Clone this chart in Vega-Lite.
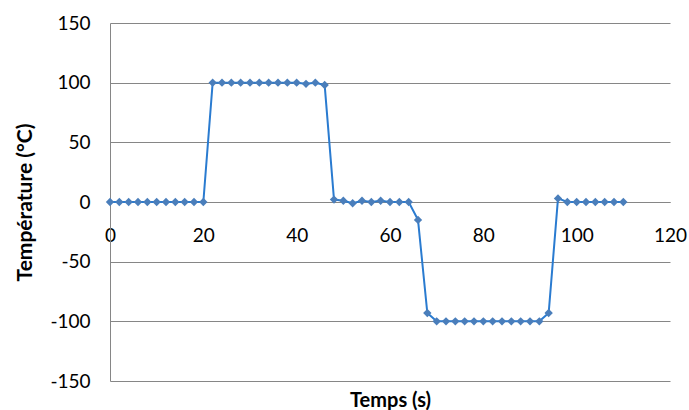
{
  "$schema": "https://vega.github.io/schema/vega-lite/v6.json",
  "autosize": "none",
  "width": 560,
  "height": 358,
  "padding": {"left": 110, "top": 23, "right": 19, "bottom": 29},
  "background": "white",
  "config": {
    "view": {"stroke": null},
    "font": "Lato",
    "axis": {"labelFont": "Lato", "titleFont": "Lato", "labelColor": "#000000", "titleColor": "#000000"}
  },
  "data": {"values": [
    {"t": 0, "T": 0}, {"t": 2, "T": 0}, {"t": 4, "T": 0}, {"t": 6, "T": 0}, {"t": 8, "T": 0},
    {"t": 10, "T": 0}, {"t": 12, "T": 0}, {"t": 14, "T": 0}, {"t": 16, "T": 0}, {"t": 18, "T": 0},
    {"t": 20, "T": 0}, {"t": 22, "T": 100}, {"t": 24, "T": 100}, {"t": 26, "T": 100}, {"t": 28, "T": 100},
    {"t": 30, "T": 100}, {"t": 32, "T": 100}, {"t": 34, "T": 100}, {"t": 36, "T": 100}, {"t": 38, "T": 100},
    {"t": 40, "T": 100}, {"t": 42, "T": 99}, {"t": 44, "T": 100}, {"t": 46, "T": 98}, {"t": 48, "T": 2},
    {"t": 50, "T": 1}, {"t": 52, "T": -1}, {"t": 54, "T": 1}, {"t": 56, "T": 0}, {"t": 58, "T": 1},
    {"t": 60, "T": 0}, {"t": 62, "T": 0}, {"t": 64, "T": 0}, {"t": 66, "T": -15}, {"t": 68, "T": -93},
    {"t": 70, "T": -100}, {"t": 72, "T": -100}, {"t": 74, "T": -100}, {"t": 76, "T": -100}, {"t": 78, "T": -100},
    {"t": 80, "T": -100}, {"t": 82, "T": -100}, {"t": 84, "T": -100}, {"t": 86, "T": -100}, {"t": 88, "T": -100},
    {"t": 90, "T": -100}, {"t": 92, "T": -100}, {"t": 94, "T": -93}, {"t": 96, "T": 3}, {"t": 98, "T": 0},
    {"t": 100, "T": 0}, {"t": 102, "T": 0}, {"t": 104, "T": 0}, {"t": 106, "T": 0}, {"t": 108, "T": 0},
    {"t": 110, "T": 0}
  ]},
  "encoding": {
    "x": {
      "field": "t", "type": "quantitative",
      "scale": {"domain": [0, 120], "nice": false, "zero": false},
      "axis": {
        "values": [0, 20, 40, 60, 80, 100, 120],
        "title": "Temps (s)",
        "offset": -179,
        "grid": false,
        "ticks": false,
        "domainColor": "#868686",
        "domainWidth": 1,
        "labelFontSize": 19,
        "labelPadding": 24,
        "labelFlush": false,
        "titleFontSize": 20,
        "titleFontWeight": "bold",
        "titleY": 198,
        "titleBaseline": "middle"
      }
    },
    "y": {
      "field": "T", "type": "quantitative",
      "scale": {"domain": [-150, 150], "nice": false},
      "axis": {
        "values": [-150, -100, -50, 0, 50, 100, 150],
        "labelExpr": "'' + datum.value",
        "title": "Température (°C)",
        "grid": true,
        "gridColor": "#868686",
        "gridWidth": 1,
        "ticks": false,
        "domainColor": "#868686",
        "domainWidth": 1,
        "labelFontSize": 19,
        "labelPadding": 20,
        "titleFontSize": 21,
        "titleFontWeight": "bold",
        "titleX": -85,
        "titleBaseline": "middle"
      }
    }
  },
  "layer": [
    {"mark": {"type": "line", "color": "#2a7bd0", "strokeWidth": 2}},
    {"mark": {"type": "point", "shape": "diamond", "filled": true, "size": 70, "color": "#4a7ebb", "opacity": 1}}
  ]
}
